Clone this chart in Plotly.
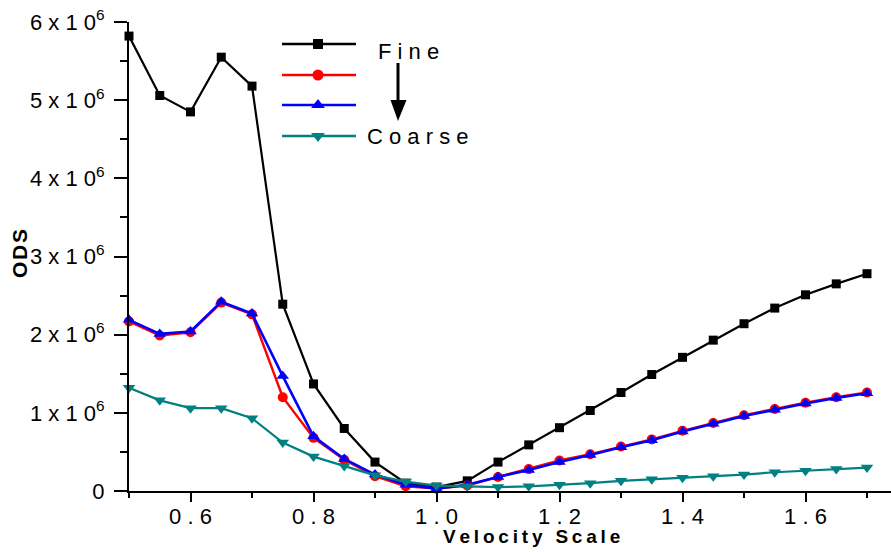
import plotly.graph_objects as go

# ---------------- data ----------------
velocity_scale = [0.50, 0.55, 0.60, 0.65, 0.70, 0.75, 0.80, 0.85, 0.90, 0.95,
                  1.00, 1.05, 1.10, 1.15, 1.20, 1.25, 1.30, 1.35, 1.40, 1.45,
                  1.50, 1.55, 1.60, 1.65, 1.70]
ods_fine = [5.82, 5.06, 4.85, 5.55, 5.18, 2.39, 1.37, 0.80, 0.37, 0.10,
            0.05, 0.13, 0.37, 0.59, 0.81, 1.03, 1.26, 1.49, 1.71, 1.93,
            2.14, 2.34, 2.51, 2.65, 2.78]
ods_medium_fine = [2.17, 1.99, 2.03, 2.41, 2.26, 1.20, 0.68, 0.40, 0.19, 0.06,
                   0.03, 0.07, 0.18, 0.28, 0.39, 0.47, 0.57, 0.66, 0.77, 0.87,
                   0.97, 1.05, 1.13, 1.20, 1.26]
ods_medium = [2.19, 2.01, 2.04, 2.42, 2.27, 1.47, 0.70, 0.41, 0.21, 0.08,
              0.03, 0.08, 0.18, 0.27, 0.37, 0.46, 0.56, 0.65, 0.76, 0.86,
              0.96, 1.04, 1.12, 1.19, 1.25]
ods_coarse = [1.32, 1.16, 1.06, 1.06, 0.93, 0.62, 0.44, 0.32, 0.20, 0.12,
              0.07, 0.06, 0.05, 0.06, 0.08, 0.10, 0.13, 0.15, 0.17, 0.19,
              0.21, 0.24, 0.26, 0.28, 0.30]
SCALE = 1e6

y_tickvals = [0, 1e6, 2e6, 3e6, 4e6, 5e6, 6e6]
y_ticktext = ["0"] + [f"{k} x 1 0<sup>6</sup>" for k in range(1, 7)]
x_tickvals = [0.6, 0.8, 1.0, 1.2, 1.4, 1.6]
x_ticktext = ["0 . 6", "0 . 8", "1 . 0", "1 . 2", "1 . 4", "1 . 6"]

series_names = ["Fine", "", "", "Coarse"]
series_colors = ["#000000", "#ff0000", "#0000ff", "#008080"]
series_symbols = ["square", "circle", "triangle-up", "triangle-down"]
series_sizes = [9, 10, 11, 11]
series_widths = [2.2, 2.4, 2.6, 2.2]
series_data = [ods_fine, ods_medium_fine, ods_medium, ods_coarse]

# ---------------- layout geometry ----------------
W, H = 891, 552
L, R, T, B = 129, 0, 22, 61
PW, PH = W - L - R, H - T - B
FONT = "Liberation Sans, Arial, sans-serif"


def px(x):
    return (x - L) / PW


def py(y):
    return (H - B - y) / PH


fig = go.Figure()
for vals, name, col, sym, sz, lw in zip(series_data, series_names, series_colors,
                                        series_symbols, series_sizes, series_widths):
    fig.add_trace(go.Scatter(
        x=velocity_scale, y=[v * SCALE for v in vals], mode="lines+markers",
        name=name, showlegend=False, cliponaxis=False,
        line=dict(color=col, width=lw),
        marker=dict(symbol=sym, size=sz, color=col, line=dict(width=0)),
    ))

# ---------------- hand-made legend ----------------
legend_rows = [44, 75, 105, 136]
shapes = []
for row_y, col, sym, sz in zip(legend_rows, series_colors, series_symbols, series_sizes):
    shapes.append(dict(type="line", xref="paper", yref="paper",
                       x0=px(282), x1=px(356), y0=py(row_y), y1=py(row_y),
                       line=dict(color=col, width=2.5)))
    fig.add_trace(go.Scatter(
        x=[318], y=[row_y], xaxis="x2", yaxis="y2",
        mode="markers", showlegend=False, hoverinfo="skip", cliponaxis=False,
        marker=dict(symbol=sym, size=sz + 1, color=col, line=dict(width=0)),
    ))

# arrow Fine -> Coarse
shapes.append(dict(type="line", xref="paper", yref="paper",
                   x0=px(398), x1=px(398), y0=py(63), y1=py(102),
                   line=dict(color="black", width=3)))
shapes.append(dict(type="path", xref="paper", yref="paper",
                   path=f"M {px(390.5)},{py(100)} L {px(406.5)},{py(100)} L {px(398)},{py(121)} Z",
                   fillcolor="black", line=dict(color="black", width=0)))

annotations = [
    dict(text="F i n e", x=px(408), y=py(52), xref="paper", yref="paper",
         showarrow=False, xanchor="center", yanchor="middle",
         font=dict(family=FONT, size=22, color="black")),
    dict(text="C o a r s e", x=px(417), y=py(136), xref="paper", yref="paper",
         showarrow=False, xanchor="center", yanchor="middle",
         font=dict(family=FONT, size=22, color="black")),
    dict(text="<b>O\u200aD\u200aS</b>", x=px(19), y=py(253), xref="paper", yref="paper",
         showarrow=False, xanchor="center", yanchor="middle", textangle=-90,
         font=dict(family=FONT, size=21, color="black")),
    dict(text="<b>V\u2009e\u2009l\u2009o\u2009c\u2009i\u2009t\u2009y\u2009 \u2009S\u2009c\u2009a\u2009l\u2009e</b>",
         x=px(531), y=py(536), xref="paper", yref="paper",
         showarrow=False, xanchor="center", yanchor="middle",
         font=dict(family=FONT, size=19, color="black")),
]

fig.update_layout(
    width=W, height=H,
    margin=dict(l=L, r=R, t=T, b=B, pad=0, autoexpand=False),
    paper_bgcolor="white", plot_bgcolor="white",
    font=dict(family=FONT, size=21, color="black"),
    showlegend=False,
    shapes=shapes, annotations=annotations,
    xaxis=dict(
        range=[0.5, 0.5 + PW / 615.0], showgrid=False, zeroline=False,
        automargin=False,
        showline=True, linecolor="black", linewidth=2,
        tickmode="array", tickvals=x_tickvals, ticktext=x_ticktext,
        ticks="outside", ticklen=9, tickwidth=2, tickcolor="black",
        ticklabelstandoff=-4,
        minor=dict(dtick=0.1, tick0=0.5, ticks="outside", ticklen=5,
                   tickwidth=2, tickcolor="black", showgrid=False),
        tickfont=dict(family=FONT, size=22, color="black"),
    ),
    yaxis=dict(
        range=[0, 6e6], showgrid=False, zeroline=False,
        automargin=False,
        showline=True, linecolor="black", linewidth=2,
        tickmode="array", tickvals=y_tickvals, ticktext=y_ticktext,
        ticks="outside", ticklen=13, tickwidth=2, tickcolor="black",
        ticklabelstandoff=5,
        minor=dict(dtick=0.5e6, tick0=0, ticks="outside", ticklen=7,
                   tickwidth=2, tickcolor="black", showgrid=False),
        tickfont=dict(family=FONT, size=22, color="black"),
    ),
    xaxis2=dict(overlaying="x", range=[L, W - R], visible=False, automargin=False),
    yaxis2=dict(overlaying="y", range=[H - B, T], visible=False, automargin=False),
)

fig.write_html(
    "out.html",
    config={"displayModeBar": False},
    post_script="document.body.style.margin='0';document.body.style.overflow='hidden';",
)
